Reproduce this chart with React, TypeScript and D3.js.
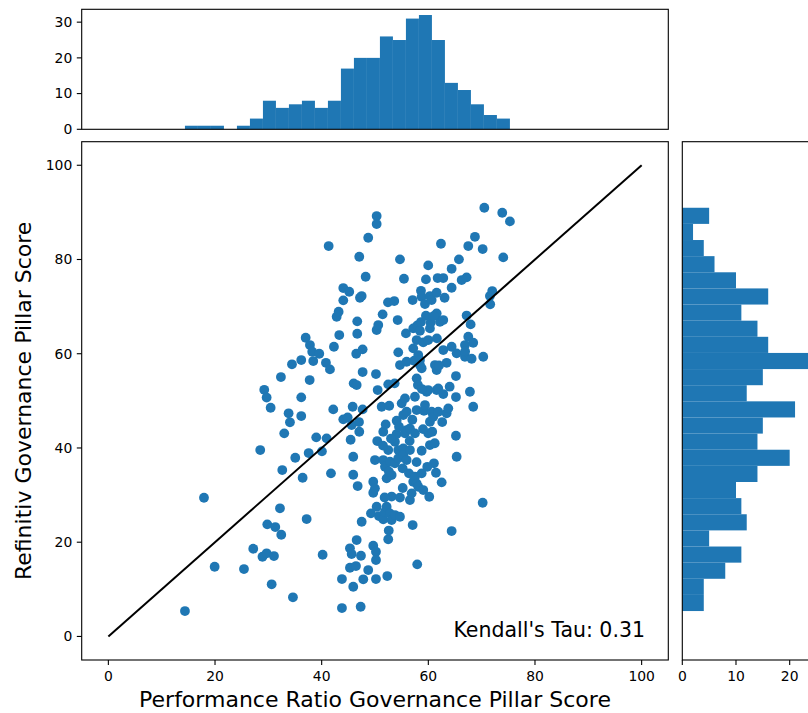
import React from "react";
import * as d3 from "d3";

// ---------- data ----------
const perfScores: number[] = [
  14.36, 17.93, 19.93, 25.43, 27.17, 28.48, 29.23, 29.68, 28.9, 29.68, 29.8, 30.43, 30.62, 31.05, 31.3,
  32.18, 32.36, 32.42, 32.61, 32.98, 33.8, 34.05, 34.43, 34.61, 35.05, 36.17, 36.17, 36.17, 36.43, 37.0,
  37.18, 37.56, 37.75, 37.8, 38.23, 38.42, 38.98, 39.55, 40.05, 40.18, 40.8, 40.93, 41.31, 41.55, 41.74,
  42.17, 42.3, 42.81, 43.18, 43.3, 43.8, 43.8, 44.05, 44.05, 44.05, 44.87, 45.17, 45.3, 45.3, 45.43,
  45.62, 45.62, 45.81, 45.92, 45.92, 45.92, 46.0, 46.43, 46.48, 46.56, 46.56, 46.67, 46.67, 46.75, 47.05,
  47.05, 47.18, 47.31, 47.37, 47.5, 47.5, 47.68, 47.68, 47.68, 47.8, 48.25, 48.73, 48.73, 49.24, 49.99,
  49.67, 49.67, 49.67, 49.99, 51.55, 50.18, 50.18, 50.18, 50.18, 50.31, 50.31, 50.31, 50.31, 50.42, 50.5,
  50.61, 50.74, 51.25, 51.43, 51.55, 51.55, 51.87, 51.87, 52.18, 52.18, 52.3, 52.43, 52.48, 52.48, 52.58,
  52.48, 52.67, 52.8, 52.8, 53.12, 53.12, 53.12, 53.68, 53.61, 53.74, 53.74, 53.74, 54.06, 54.06, 54.25,
  54.36, 54.36, 54.36, 54.68, 54.68, 54.68, 54.68, 55.0, 55.18, 55.3, 55.3, 55.3, 55.43, 55.62, 55.62,
  55.8, 55.93, 55.93, 55.93, 55.93, 56.37, 56.55, 56.55, 56.55, 56.87, 57.06, 57.06, 57.17, 57.17, 57.17,
  57.36, 57.49, 57.49, 57.49, 57.81, 58.05, 57.81, 57.81, 57.92, 57.92, 58.11, 58.11, 58.43, 57.81, 58.43,
  58.43, 58.62, 58.62, 58.75, 58.75, 58.75, 58.75, 59.05, 59.05, 59.18, 59.37, 59.37, 59.55, 59.55, 59.68,
  59.98, 59.98, 59.98, 59.98, 60.17, 60.3, 60.3, 60.3, 60.3, 60.43, 60.62, 60.62, 60.73, 61.6, 60.92,
  61.05, 61.24, 61.56, 61.43, 61.56, 61.56, 61.56, 61.75, 61.86, 61.86, 62.18, 62.37, 62.5, 62.8, 62.8,
  62.8, 62.8, 63.05, 63.43, 63.43, 63.74, 64.37, 64.37, 64.37, 64.37, 65.18, 65.18, 65.18, 65.31, 65.31,
  65.74, 66.25, 66.87, 66.87, 67.18, 67.18, 67.49, 67.49, 67.8, 67.93, 68.12, 68.42, 68.42, 68.74, 70.19,
  70.19, 70.5, 70.3, 71.55, 71.98, 73.86, 74.05, 75.3,
  47.0, 51.5, 52.0, 52.6, 53.0, 51.8, 54.5, 55.2, 56.5, 57.0, 57.8, 59.0, 59.8, 58.8, 61.2, 62.0, 62.6,
  61.0, 64.0, 66.9, 71.6,
];

const refinitivScores: number[] = [
  5.39, 29.43, 14.79, 14.3, 18.61, 39.56, 52.35, 50.7, 16.91, 17.64, 23.79, 48.54, 11.06, 17.06, 23.22,
  27.19, 55.05, 21.58, 35.31, 43.1, 47.35, 45.44, 57.75, 8.3, 37.92, 58.66, 50.74, 46.77, 33.68, 63.39,
  24.91, 38.92, 54.41, 61.84, 60.42, 58.45, 42.25, 60.0, 39.28, 17.34, 58.08, 42.04, 82.85, 56.68, 34.61,
  48.19, 61.48, 67.85, 68.91, 63.96, 12.18, 6.03, 73.94, 71.33, 46.07, 46.5, 73.15, 14.58, 18.7, 41.74,
  17.49, 44.86, 48.75, 38.14, 34.32, 10.55, 53.71, 14.94, 60.0, 53.35, 20.46, 66.87, 64.24, 31.92, 80.58,
  43.44, 71.88, 6.3, 17.13, 72.24, 24.34, 60.93, 56.11, 48.19, 12.12, 76.34, 84.61, 14.09, 26.12, 37.44,
  32.83, 30.5, 19.25, 31.43, 37.44, 17.98, 16.21, 12.18, 55.69, 89.22, 87.52, 65.02, 27.52, 41.47, 52.29,
  66.09, 25.55, 48.75, 68.36, 43.44, 24.85, 36.01, 26.46, 33.55, 27.52, 12.82, 70.9, 53.5, 20.61, 22.47,
  39.56, 48.96, 37.07, 26.12, 34.25, 29.69, 24.7, 53.71, 71.18, 41.32, 36.74, 25.76, 45.78, 42.95, 67.15,
  60.29, 39.56, 37.8, 80.03, 57.6, 29.48, 25.4, 49.47, 35.67, 46.98, 39.92, 38.5, 75.91, 50.53, 43.1,
  64.32, 58.3, 47.69, 43.8, 37.44, 34.61, 44.16, 39.56, 28.95, 30.37, 71.39, 23.64, 65.38, 61.14, 32.83,
  58.51, 50.87, 43.1, 33.89, 54.77, 53.35, 48.05, 32.49, 66.02, 15.3, 59.72, 31.77, 64.88, 62.9, 58.66,
  57.6, 73.36, 66.72, 56.9, 39.41, 34.61, 72.09, 62.41, 31.07, 47.9, 70.54, 49.11, 75.78, 68.06, 51.93,
  78.75, 62.9, 52.29, 43.1, 29.65, 65.38, 72.24, 45.56, 40.62, 66.57, 47.69, 71.39, 43.44, 63.26, 46.62,
  36.74, 57.6, 56.53, 34.74, 72.94, 68.57, 52.29, 76.06, 52.65, 47.69, 66.79, 83.34, 32.7, 76.06, 67.15,
  60.78, 51.44, 71.88, 58.08, 47.35, 48.41, 78.03, 74.0, 61.48, 22.37, 55.26, 50.81, 42.59, 60.08, 38.14,
  80.03, 75.64, 61.84, 59.36, 76.21, 68.1, 82.85, 63.6, 51.93, 66.23, 58.93, 62.33, 48.75, 84.82, 82.21,
  28.37, 90.98, 59.36, 72.24, 73.3, 89.92, 80.45, 88.09,
  45.5, 40.5, 45.0, 35.0, 42.0, 29.5, 44.5, 31.5, 41.5, 46.0, 37.0, 44.0, 36.0, 52.5, 41.0, 57.5, 45.5,
  68.0, 53.0, 60.5, 70.5,
];

// histogram of the x scores (25 bins between min and max)
const perfBinRange: number[] = [14.36, 75.3];
const perfCounts: number[] = [1, 1, 1, 0, 1, 3, 8, 6, 7, 8, 6, 8, 17, 20, 20, 26, 25, 31, 32, 25, 13, 11, 7, 4, 3];

// histogram of the y scores (25 bins, bottom to top)
const refBinRange: number[] = [5.39, 90.98];
const refCounts: number[] = [4, 4, 8, 11, 5, 12, 11, 10, 14, 20, 14, 15, 21, 12, 15, 24, 16, 14, 11, 16, 10, 6, 4, 2, 5];

const mainTicks: number[] = [0, 20, 40, 60, 80, 100];
const topHistTicks: number[] = [0, 10, 20, 30];
const rightHistTicks: number[] = [0, 10, 20];
const identityLine: number[] = [0, 100];

const xLabel = "Performance Ratio Governance Pillar Score";
const yLabel = "Refinitiv Governance Pillar Score";
const tauText = "Kendall's Tau: 0.31";

// ---------- layout ----------
const W = 808;
const H = 713;
const main = { l: 81.7, r: 668.3, t: 141.7, b: 660 };
const topH = { t: 9.3, b: 129.3 };
const rightH = { l: 682.3, r: 817.6 };
const BLUE = "#1f77b4";
const FONT = "DejaVu Sans, sans-serif";
const TICK = 4.9;
const TICK_FS = 13.9;

export default function App() {
  const x = d3.scaleLinear().domain([-5, 105]).range([main.l, main.r]);
  const y = d3.scaleLinear().domain([-5, 105]).range([main.b, main.t]);
  const hy = d3.scaleLinear().domain([0, d3.max(perfCounts)! * 1.05]).range([topH.b, topH.t]);
  const hx = d3.scaleLinear().domain([0, 24 * 1.05]).range([rightH.l, rightH.r]);

  const pw = (perfBinRange[1] - perfBinRange[0]) / perfCounts.length;
  const rw = (refBinRange[1] - refBinRange[0]) / refCounts.length;

  const line = d3.line<number>().x((d) => x(d)).y((d) => y(d));
  const points = perfScores.map((v, i) => [v, refinitivScores[i]] as [number, number]);

  return (
    <svg width={W} height={H} style={{ display: "block", position: "absolute", left: 0, top: 0, background: "#fff" }}>
      <rect x={0} y={0} width={W} height={H} fill="#fff" />
      <defs>
        <clipPath id="mainClip">
          <rect x={main.l} y={main.t} width={main.r - main.l} height={main.b - main.t} />
        </clipPath>
      </defs>

      {/* ---- top histogram ---- */}
      <g>
        {perfCounts.map((c, i) => {
          const x0 = perfBinRange[0] + i * pw;
          return c > 0 ? (
            <rect key={i} x={x(x0)} y={hy(c)} width={x(x0 + pw) - x(x0)} height={hy(0) - hy(c)} fill={BLUE} />
          ) : null;
        })}
        <rect x={main.l} y={topH.t} width={main.r - main.l} height={topH.b - topH.t} fill="none" stroke="#000" strokeWidth={1.1} />
        {topHistTicks.map((t) => (
          <g key={t}>
            <line x1={main.l - TICK} x2={main.l} y1={hy(t)} y2={hy(t)} stroke="#000" strokeWidth={1.1} />
            <text x={main.l - TICK - 4.5} y={hy(t)} dy="0.35em" textAnchor="end" fontSize={TICK_FS} fontFamily={FONT} fill="#000">
              {t}
            </text>
          </g>
        ))}
      </g>

      {/* ---- right histogram ---- */}
      <g>
        {refCounts.map((c, i) => {
          const y0 = refBinRange[0] + i * rw;
          return c > 0 ? (
            <rect key={i} x={hx(0)} y={y(y0 + rw)} width={hx(c) - hx(0)} height={y(y0) - y(y0 + rw)} fill={BLUE} />
          ) : null;
        })}
        <rect x={rightH.l} y={main.t} width={rightH.r - rightH.l} height={main.b - main.t} fill="none" stroke="#000" strokeWidth={1.1} />
        {rightHistTicks.map((t) => (
          <g key={t}>
            <line x1={hx(t)} x2={hx(t)} y1={main.b} y2={main.b + TICK} stroke="#000" strokeWidth={1.1} />
            <text x={hx(t)} y={main.b + TICK + 4.5} dy="0.8em" textAnchor="middle" fontSize={TICK_FS} fontFamily={FONT} fill="#000">
              {t}
            </text>
          </g>
        ))}
      </g>

      {/* ---- main scatter ---- */}
      <g clipPath="url(#mainClip)">
        {points.map(([a, b], i) => (
          <circle key={i} cx={x(a)} cy={y(b)} r={4.9} fill={BLUE} />
        ))}
        <path d={line(identityLine) ?? ""} fill="none" stroke="#000" strokeWidth={2} />
      </g>
      <rect x={main.l} y={main.t} width={main.r - main.l} height={main.b - main.t} fill="none" stroke="#000" strokeWidth={1.1} />
      {mainTicks.map((t) => (
        <g key={"x" + t}>
          <line x1={x(t)} x2={x(t)} y1={main.b} y2={main.b + TICK} stroke="#000" strokeWidth={1.1} />
          <text x={x(t)} y={main.b + TICK + 4.5} dy="0.8em" textAnchor="middle" fontSize={TICK_FS} fontFamily={FONT} fill="#000">
            {t}
          </text>
        </g>
      ))}
      {mainTicks.map((t) => (
        <g key={"y" + t}>
          <line x1={main.l - TICK} x2={main.l} y1={y(t)} y2={y(t)} stroke="#000" strokeWidth={1.1} />
          <text x={main.l - TICK - 4.5} y={y(t)} dy="0.35em" textAnchor="end" fontSize={TICK_FS} fontFamily={FONT} fill="#000">
            {t}
          </text>
        </g>
      ))}
      <text x={645} y={637} textAnchor="end" fontSize={20.5} fontFamily={FONT} fill="#000">
        {tauText}
      </text>
      <text x={(main.l + main.r) / 2} y={707} textAnchor="middle" fontSize={22} fontFamily={FONT} fill="#000">
        {xLabel}
      </text>
      <text
        transform={`translate(31, ${(main.t + main.b) / 2}) rotate(-90)`}
        textAnchor="middle"
        fontSize={22}
        fontFamily={FONT}
        fill="#000"
      >
        {yLabel}
      </text>
    </svg>
  );
}
